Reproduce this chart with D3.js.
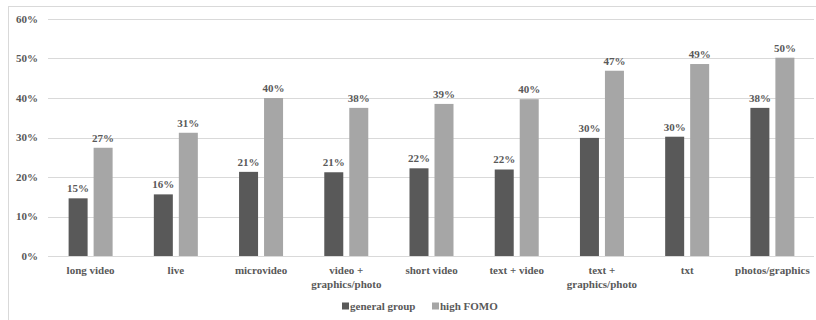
<!DOCTYPE html>
<html>
<head>
<meta charset="utf-8">
<script src="https://cdn.jsdelivr.net/npm/d3@7"></script>
<style>
  html, body { margin: 0; padding: 0; background: #fff; }
  svg { display: block; }
  text { font-family: "Liberation Serif", "Times New Roman", serif; font-weight: bold; fill: #595959; }
</style>
</head>
<body>
<svg id="chart" width="816" height="320"></svg>
<script>
// Content formats by group (share of respondents)
const categories = [
  ["long video"], ["live"], ["microvideo"], ["video +", "graphics/photo"],
  ["short video"], ["text + video"], ["text +", "graphics/photo"], ["txt"], ["photos/graphics"]
];
const seriesNames = ["general group", "high FOMO"];
const generalGroup = [14.6, 15.6, 21.3, 21.2, 22.2, 21.9, 29.9, 30.2, 37.5];
const highFomo = [27.4, 31.2, 40.0, 37.5, 38.5, 39.7, 46.9, 48.6, 50.2];
const yTicks = [0, 10, 20, 30, 40, 50, 60];
const colors = ["#595959", "#a6a6a6"];

const svg = d3.select("#chart");
const plot = { left: 48, right: 815, top: 19, bottom: 256 };

// chart frame
svg.append("rect")
  .attr("x", 8.5).attr("y", 6.5)
  .attr("width", 830).attr("height", 330)
  .attr("fill", "none").attr("stroke", "#d9d9d9");

const labels = categories.map(c => c.join(" "));
const x0 = d3.scaleBand().domain(labels).range([plot.left, plot.right]).padding(0);
const groupW = 44;
const x1 = d3.scaleBand().domain(seriesNames).range([0, groupW]).paddingInner(0.24).paddingOuter(0);
const y = d3.scaleLinear().domain([0, 60]).range([plot.bottom, plot.top]);

// gridlines
svg.append("g").selectAll("line").data(yTicks).join("line")
  .attr("x1", plot.left).attr("x2", plot.right - 1)
  .attr("y1", d => Math.round(y(d)) + 0.5).attr("y2", d => Math.round(y(d)) + 0.5)
  .attr("stroke", "#d9d9d9").attr("stroke-width", 1);

// y tick labels
svg.append("g").selectAll("text").data(yTicks).join("text")
  .attr("x", 38).attr("y", d => y(d)).attr("dy", "0.35em")
  .attr("text-anchor", "end").style("font-size", "11px")
  .text(d => d + "%");

const rows = labels.map((l, i) => ({ label: l, lines: categories[i], values: [generalGroup[i], highFomo[i]] }));
const fmt = d3.format(".0f");

const groups = svg.append("g").selectAll("g").data(rows).join("g")
  .attr("transform", d => `translate(${x0(d.label) + (x0.bandwidth() - groupW) / 2},0)`);

groups.selectAll("rect").data(d => d.values.map((v, j) => ({ v, s: seriesNames[j], j }))).join("rect")
  .attr("x", d => x1(d.s)).attr("width", x1.bandwidth())
  .attr("y", d => y(d.v)).attr("height", d => y(0) - y(d.v))
  .attr("fill", d => colors[d.j]);

groups.selectAll("text.val").data(d => d.values.map((v, j) => ({ v, s: seriesNames[j] }))).join("text")
  .attr("class", "val")
  .attr("x", d => x1(d.s) + x1.bandwidth() / 2).attr("y", d => y(d.v) - 6)
  .attr("text-anchor", "middle").style("font-size", "11px")
  .text(d => fmt(d.v) + "%");

// category labels
const catText = svg.append("g").selectAll("text").data(rows).join("text")
  .attr("x", d => x0(d.label) + x0.bandwidth() / 2)
  .attr("y", 274)
  .attr("text-anchor", "middle").style("font-size", "11px");
catText.selectAll("tspan").data(d => d.lines.map(t => ({ t, x: x0(d.label) + x0.bandwidth() / 2 }))).join("tspan")
  .attr("x", d => d.x).attr("dy", (d, i) => i === 0 ? 0 : 14)
  .text(d => d.t);

// legend
const legend = svg.append("g").attr("transform", "translate(342,306)");
const legendX = [0, 90];
seriesNames.forEach((name, i) => {
  const g = legend.append("g").attr("transform", `translate(${legendX[i]},0)`);
  g.append("rect").attr("x", 0).attr("y", -3.5).attr("width", 7).attr("height", 7).attr("fill", colors[i]);
  g.append("text").attr("x", 8).attr("y", 0).attr("dy", "0.35em").style("font-size", "11px").text(name);
});
</script>
</body>
</html>
